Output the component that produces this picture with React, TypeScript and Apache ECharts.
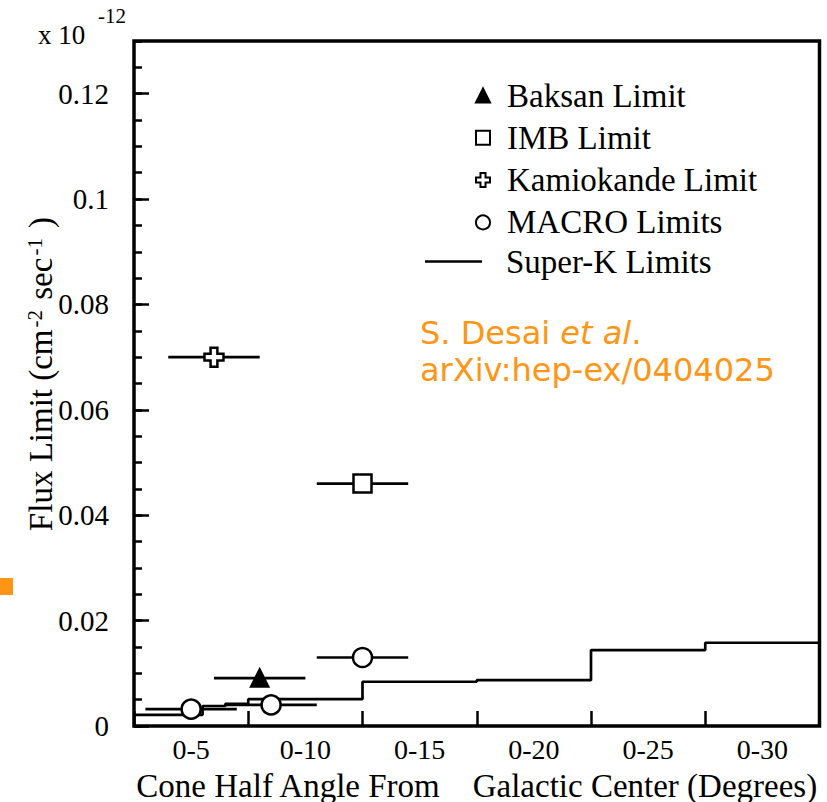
import React, { useEffect, useRef } from 'react';
import * as echarts from 'echarts';

const categories = ['0-5', '0-10', '0-15', '0-20', '0-25', '0-30'];

// [x (bin units), flux (x1e-12), half-width]
const baksan = [[1.1, 0.0091, 0.4]];
const imb = [[2.0, 0.046, 0.4]];
const kamiokande = [[0.7, 0.070, 0.4]];
const macro = [
  [0.5, 0.0032, 0.4],
  [1.2, 0.0040, 0.4],
  [2.0, 0.0130, 0.4],
];
const superKEdges = [0, 0.6, 0.8, 1, 2, 3, 4, 5, 6];
const superKValues = [0.0021, 0.0038, 0.0042, 0.0051, 0.0084, 0.0087, 0.0144, 0.0158];

const SERIF = '"Liberation Serif", "Times New Roman", serif';
const SANS = '"DejaVu Sans", sans-serif';
const ORANGE = '#ff9514';
const plusPath = 'path://M3.2,0 H6.8 V3.2 H10 V6.8 H6.8 V10 H3.2 V6.8 H0 V3.2 H3.2 Z';

function errorBars(name: string, data: number[][]) {
  return {
    type: 'custom',
    name: name + ' bars',
    xAxisIndex: 0,
    yAxisIndex: 0,
    data,
    encode: { x: 0, y: 1 },
    z: 2,
    renderItem: (_p: any, api: any) => {
      const x = api.value(0);
      const y = api.value(1);
      const e = api.value(2);
      const a = api.coord([x - e, y]);
      const b = api.coord([x + e, y]);
      return {
        type: 'line',
        shape: { x1: a[0], y1: a[1], x2: b[0], y2: b[1] },
        style: { stroke: '#000', lineWidth: 2.7 },
      };
    },
  };
}

function markers(name: string, data: number[][], symbol: string, fill: string, size: number) {
  return {
    type: 'scatter',
    name,
    xAxisIndex: 0,
    yAxisIndex: 0,
    data: data.map((d) => [d[0], d[1]]),
    symbol,
    symbolSize: size,
    z: 5,
    itemStyle: { color: fill, borderColor: '#000', borderWidth: 2.5, opacity: 1 },
  };
}

export default function App() {
  const ref = useRef<HTMLDivElement>(null);
  useEffect(() => {
    const chart = echarts.init(ref.current!, null, { renderer: 'svg' });
    const superK = superKValues.map((v, i) => [superKEdges[i], v]);
    superK.push([superKEdges[superKEdges.length - 1], superKValues[superKValues.length - 1]]);

    const option: any = {
      animation: false,
      backgroundColor: '#fff',
      grid: {
        left: 134,
        right: 7.5,
        top: 41,
        bottom: 76,
        containLabel: false,
        outerBoundsMode: 'none',
        show: true,
        borderColor: '#000',
        borderWidth: 3.5,
        backgroundColor: 'transparent',
      },
      xAxis: [
        {
          type: 'value',
          min: 0,
          max: 6,
          interval: 1,
          position: 'bottom',
          axisLine: { show: false },
          axisTick: { show: true, inside: true, length: 15, lineStyle: { color: '#000', width: 2.5 } },
          axisLabel: { show: false },
          splitLine: { show: false },
        },
        {
          type: 'category',
          data: categories,
          position: 'bottom',
          boundaryGap: true,
          axisLine: { show: false },
          axisTick: { show: false },
          axisLabel: { color: '#000', fontFamily: SERIF, fontSize: 28, margin: 9 },
          splitLine: { show: false },
          name: 'Cone Half Angle From    Galactic Center (Degrees)',
          nameLocation: 'middle',
          nameGap: 43,
          nameTextStyle: { color: '#000', fontFamily: SERIF, fontSize: 33 },
        },
      ],
      yAxis: [
        {
          type: 'value',
          min: 0,
          max: 0.13,
          interval: 0.02,
          position: 'left',
          axisLine: { show: false },
          axisTick: { show: true, inside: true, length: 15, lineStyle: { color: '#000', width: 2.5 } },
          axisLabel: {
            color: '#000',
            fontFamily: SERIF,
            fontSize: 29,
            margin: 25,
            showMaxLabel: false,
            formatter: (v: number) => String(parseFloat(v.toFixed(3))),
          },
          splitLine: { show: false },
        },
        {
          type: 'value',
          min: 0,
          max: 0.13,
          interval: 0.005,
          position: 'left',
          axisLine: { show: false },
          axisTick: { show: true, inside: true, length: 8, lineStyle: { color: '#000', width: 2.5 } },
          axisLabel: { show: false },
          splitLine: { show: false },
        },
      ],
      legend: [
        {
          data: ['Baksan Limit', 'IMB Limit', 'Kamiokande Limit', 'MACRO Limits'],
          orient: 'vertical',
          left: 470,
          top: 74,
          itemWidth: 14,
          itemHeight: 14,
          itemGap: 9.3,
          selectedMode: false,
          textStyle: { color: '#000', fontFamily: SERIF, fontSize: 33, lineHeight: 32, padding: [0, 0, 0, 12] },
        },
        {
          data: [{ name: 'Super-K Limits', icon: 'rect' }],
          orient: 'vertical',
          left: 420,
          top: 240,
          itemWidth: 57,
          itemHeight: 2.7,
          selectedMode: false,
          textStyle: { color: '#000', fontFamily: SERIF, fontSize: 33, lineHeight: 32, padding: [0, 0, 0, 19] },
        },
      ],
      graphic: [
        {
          type: 'text',
          x: 40.5,
          y: 374,
          rotation: Math.PI / 2,
          style: {
            text: '{m|Flux Limit (cm}{s|-2}{m| sec}{s|-1}{m| )}',
            align: 'center',
            verticalAlign: 'middle',
            rich: {
              m: { fontFamily: SERIF, fontSize: 33, lineHeight: 33, fill: '#000', verticalAlign: 'bottom' },
              s: { fontFamily: SERIF, fontSize: 21, lineHeight: 21, fill: '#000', verticalAlign: 'top', padding: [0, 2, 26, 2] },
            },
          },
        },
        {
          type: 'text',
          x: 38,
          y: 35,
          style: { text: 'x 10', fill: '#000', fontFamily: SERIF, fontSize: 27, verticalAlign: 'middle' },
        },
        {
          type: 'text',
          x: 98,
          y: 16,
          style: { text: '-12', fill: '#000', fontFamily: SERIF, fontSize: 21, verticalAlign: 'middle' },
        },
        {
          type: 'text',
          x: 420,
          y: 333,
          style: {
            text: '{n|S. Desai }{i|et al}{n|.}',
            verticalAlign: 'middle',
            rich: {
              n: { fill: ORANGE, fontFamily: SANS, fontSize: 32 },
              i: { fill: ORANGE, fontFamily: SANS, fontSize: 32, fontStyle: 'italic' },
            },
          },
        },
        {
          type: 'text',
          x: 420,
          y: 370,
          style: {
            text: 'arXiv:hep-ex/0404025',
            fill: ORANGE,
            fontFamily: SANS,
            fontSize: 32,
            verticalAlign: 'middle',
          },
        },
        {
          type: 'rect',
          shape: { x: 0, y: 578, width: 13, height: 17 },
          style: { fill: ORANGE },
        },
      ],
      series: [
        {
          type: 'line',
          name: 'Super-K Limits',
          xAxisIndex: 0,
          yAxisIndex: 0,
          data: superK,
          step: 'end',
          symbol: 'none',
          showSymbol: false,
          z: 1,
          lineStyle: { color: '#000', width: 2.7 },
          itemStyle: { color: '#000' },
        },
        errorBars('Baksan Limit', baksan),
        errorBars('IMB Limit', imb),
        errorBars('Kamiokande Limit', kamiokande),
        errorBars('MACRO Limits', macro),
        markers('Baksan Limit', baksan, 'triangle', '#000', 17),
        markers('IMB Limit', imb, 'rect', '#fff', 18),
        markers('Kamiokande Limit', kamiokande, plusPath, '#fff', 19),
        markers('MACRO Limits', macro, 'circle', '#fff', 19),
      ],
    };
    chart.setOption(option);
    return () => chart.dispose();
  }, []);
  return <div ref={ref} style={{ position: 'absolute', left: 0, top: 0, width: 827, height: 802 }} />;
}
